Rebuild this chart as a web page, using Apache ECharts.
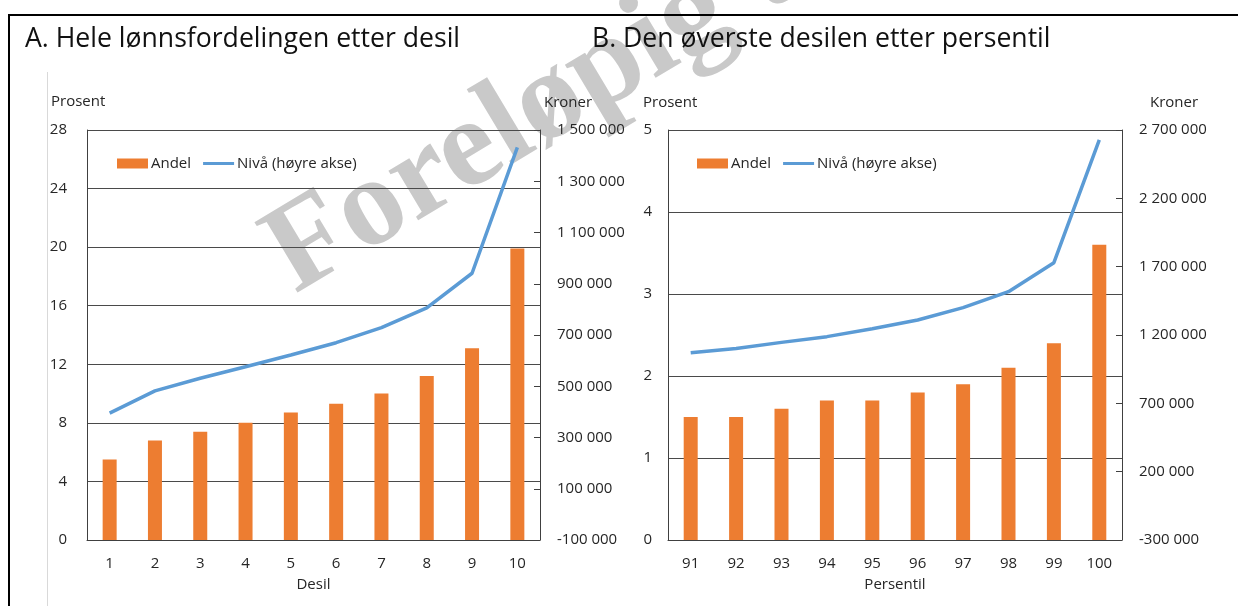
<!DOCTYPE html>
<html>
<head>
<meta charset="utf-8">
<script src="https://cdn.jsdelivr.net/npm/echarts@6/dist/echarts.min.js"></script>
<style>
  html, body { margin: 0; padding: 0; background: #fff; }
  #chart { width: 1238px; height: 606px; }
</style>
</head>
<body>
<div id="chart"></div>
<script>
// Data
var desilCats = ['1', '2', '3', '4', '5', '6', '7', '8', '9', '10'];
var andelDesil = [5.5, 6.8, 7.4, 8.0, 8.7, 9.3, 10.0, 11.2, 13.1, 19.9];
var nivaDesil = [395000, 482000, 531000, 576000, 622000, 670000, 729000, 806000, 941000, 1432000];

var persentilCats = ['91', '92', '93', '94', '95', '96', '97', '98', '99', '100'];
var andelPersentil = [1.5, 1.5, 1.6, 1.7, 1.7, 1.8, 1.9, 2.1, 2.4, 3.6];
var nivaPersentil = [1070000, 1102000, 1146000, 1188000, 1246000, 1310000, 1400000, 1517000, 1729000, 2627000];

var titles = ['A. Hele lønnsfordelingen etter desil', 'B. Den øverste desilen etter persentil'];
var xNames = ['Desil', 'Persentil'];
var seriesNames = ['Andel', 'Nivå (høyre akse)'];

var FONT = '"Open Sans", "Noto Sans", sans-serif';
var FS = 15;
var TXT = '#262626';
var ORANGE = '#ED7D31';
var BLUE = '#5B9BD5';

// tallformat med mellomrom som tusenskille
function kroner(v) {
    var s = Math.abs(v).toString().replace(/\B(?=(\d{3})+(?!\d))/g, ' ');
    return (v < 0 ? '-' : '') + s;
}

function leftAxis(grid, max, interval, margin) {
    return {
        type: 'value', gridIndex: grid, position: 'left',
        min: 0, max: max, interval: interval,
        axisLine: { show: true, lineStyle: { color: '#404040', width: 1 } },
        axisTick: { show: false },
        axisLabel: { color: TXT, fontFamily: FONT, fontSize: FS, margin: margin },
        splitLine: { show: true, lineStyle: { color: '#4a4a4a', width: 1 } }
    };
}

function rightAxis(grid, min, max, interval) {
    return {
        type: 'value', gridIndex: grid, position: 'right',
        min: min, max: max, interval: interval,
        axisLine: { show: true, lineStyle: { color: '#404040', width: 1 } },
        axisTick: { show: true, inside: true, length: 6, lineStyle: { color: '#404040' } },
        axisLabel: { color: TXT, fontFamily: FONT, fontSize: FS, margin: 17, formatter: kroner },
        splitLine: { show: false }
    };
}

function xAxis(grid, cats, name) {
    return {
        type: 'category', gridIndex: grid, data: cats,
        name: name, nameLocation: 'middle', nameGap: 37,
        nameTextStyle: { color: TXT, fontFamily: FONT, fontSize: FS },
        axisLine: { show: true, lineStyle: { color: '#404040', width: 1 } },
        axisTick: { show: false },
        axisLabel: { color: TXT, fontFamily: FONT, fontSize: FS, margin: 16 }
    };
}

function legend(left) {
    return {
        left: left, top: 151, orient: 'horizontal',
        itemWidth: 31, itemHeight: 10, itemGap: 12,
        textStyle: { color: TXT, fontFamily: FONT, fontSize: FS, padding: [0, 0, 0, -2] },
        data: [
            { name: seriesNames[0], icon: 'rect' },
            { name: seriesNames[1], icon: 'path://M0,0 L31,0 L31,3 L0,3 Z' }
        ]
    };
}

function label(text, x, y, align) {
    return {
        type: 'text', x: x, y: y,
        style: { text: text, fill: TXT, font: FS + 'px ' + FONT, textAlign: align || 'left', textVerticalAlign: 'middle' }
    };
}

var chartDom = document.getElementById('chart');
var myChart = echarts.init(chartDom, null, { renderer: 'canvas' });

var option = {
    backgroundColor: '#fff',
    animation: false,
    title: [
        { text: titles[0], left: 20, top: 21, textStyle: { fontFamily: FONT, fontSize: 26.6, fontWeight: 'normal', color: '#111' } },
        { text: titles[1], left: 587, top: 21, textStyle: { fontFamily: FONT, fontSize: 26.6, fontWeight: 'normal', color: '#111' } }
    ],
    legend: [legend(112), legend(692)],
    grid: [
        { left: 87, top: 130, width: 453, height: 410 },
        { left: 668, top: 130, width: 454, height: 410 }
    ],
    xAxis: [xAxis(0, desilCats, xNames[0]), xAxis(1, persentilCats, xNames[1])],
    yAxis: [
        leftAxis(0, 28, 4, 20),
        rightAxis(0, -100000, 1500000, 200000),
        leftAxis(1, 5, 1, 16),
        rightAxis(1, -300000, 2700000, 500000)
    ],
    series: [
        { name: seriesNames[0], type: 'bar', xAxisIndex: 0, yAxisIndex: 0, data: andelDesil, barWidth: 14, itemStyle: { color: ORANGE } },
        { name: seriesNames[1], type: 'line', xAxisIndex: 0, yAxisIndex: 1, data: nivaDesil, symbol: 'none', lineStyle: { color: BLUE, width: 3.5 }, itemStyle: { color: BLUE } },
        { name: seriesNames[0], type: 'bar', xAxisIndex: 1, yAxisIndex: 2, data: andelPersentil, barWidth: 14, itemStyle: { color: ORANGE } },
        { name: seriesNames[1], type: 'line', xAxisIndex: 1, yAxisIndex: 3, data: nivaPersentil, symbol: 'none', lineStyle: { color: BLUE, width: 3.5 }, itemStyle: { color: BLUE } }
    ],
    graphic: [
        // vannmerke
        {
            type: 'text', z: -10, x: 246, y: 212, rotation: 0.54,
            style: { text: 'Foreløpig tall', fill: '#c9c9c9', font: 'bold 126px "Liberation Serif", serif', textVerticalAlign: 'alphabetic' }
        },
        // ramme
        { type: 'line', z: -5, shape: { x1: 8, y1: 15, x2: 1238, y2: 15 }, style: { stroke: '#000', lineWidth: 2 } },
        { type: 'line', z: -5, shape: { x1: 9, y1: 14, x2: 9, y2: 606 }, style: { stroke: '#000', lineWidth: 2 } },
        { type: 'line', z: -5, shape: { x1: 47.5, y1: 72, x2: 47.5, y2: 606 }, style: { stroke: '#d9d9d9', lineWidth: 1 } },
        label('Prosent', 51, 102),
        label('Kroner', 568, 103, 'center'),
        label('Prosent', 643, 103),
        label('Kroner', 1174, 103, 'center')
    ]
};

myChart.setOption(option);
</script>
</body>
</html>
